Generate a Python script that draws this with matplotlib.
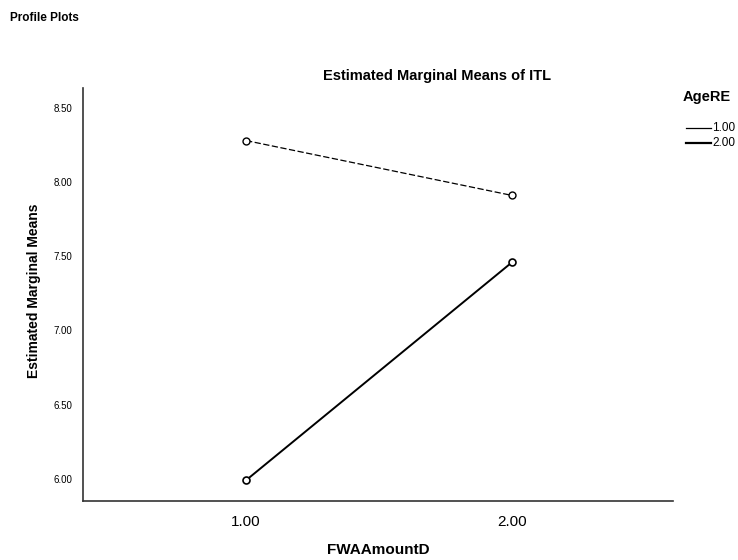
import matplotlib.pyplot as plt

plt.rcParams['font.family'] = ['Liberation Sans', 'DejaVu Sans']

fwa = [1.00, 2.00]
x_ticks = ['1.00', '2.00']
age_groups = ['1.00', '2.00']
means_age1 = [8.28, 7.91]
means_age2 = [5.99, 7.46]
y_ticks = [6.00, 6.50, 7.00, 7.50, 8.00, 8.50]

fig = plt.figure(figsize=(7.38, 5.6), dpi=100)
ax = fig.add_axes([0.1125, 0.1054, 0.7995, 0.7376])

ax.plot(fwa, means_age1, color='black', lw=0.9, ls=(0, (5, 2)),
        marker='o', ms=5, mfc='white', mec='black', mew=1.0)
ax.plot(fwa, means_age2, color='black', lw=1.4, ls='-',
        marker='o', ms=5, mfc='white', mec='black', mew=1.2)

ax.set_xlim(0.387, 2.605)
ax.set_ylim(5.85, 8.635)
ax.set_xticks(fwa)
ax.set_xticklabels(x_ticks, fontsize=11)
ax.set_yticks(y_ticks)
ax.set_yticklabels(['%.2f' % v for v in y_ticks], fontsize=7)
ax.tick_params(length=0, pad=8)
ax.tick_params(axis='x', pad=10)
for s in ['top', 'right']:
    ax.spines[s].set_visible(False)
for s in ['left', 'bottom']:
    ax.spines[s].set_color('#333333')
    ax.spines[s].set_linewidth(1.2)

fig.text(0.512, 0.018, 'FWAAmountD', fontsize=11, fontweight='bold',
         ha='center', va='center')
ax.set_ylabel('Estimated Marginal Means', fontsize=10, fontweight='bold', labelpad=14)
ax.yaxis.set_label_coords(-0.072, 0.51)

fig.text(0.592, 0.865, 'Estimated Marginal Means of ITL', fontsize=10.5,
         fontweight='bold', ha='center', va='center')
fig.text(0.014, 0.968, 'Profile Plots', fontsize=8.5, fontweight='bold',
         ha='left', va='center')

# legend drawn by hand like SPSS
fig.text(0.925, 0.826, 'AgeRE', fontsize=10.5, fontweight='bold', ha='left', va='center')
leg_y = [0.771, 0.744]
leg_lw = [0.9, 1.6]
for yy, lab, lw in zip(leg_y, age_groups, leg_lw):
    fig.add_artist(plt.Line2D([0.930, 0.963], [yy, yy], color='black', lw=lw,
                              transform=fig.transFigure))
    fig.text(0.965, yy, lab, fontsize=8.5, ha='left', va='center')

fig.savefig('out.png', dpi=100)
